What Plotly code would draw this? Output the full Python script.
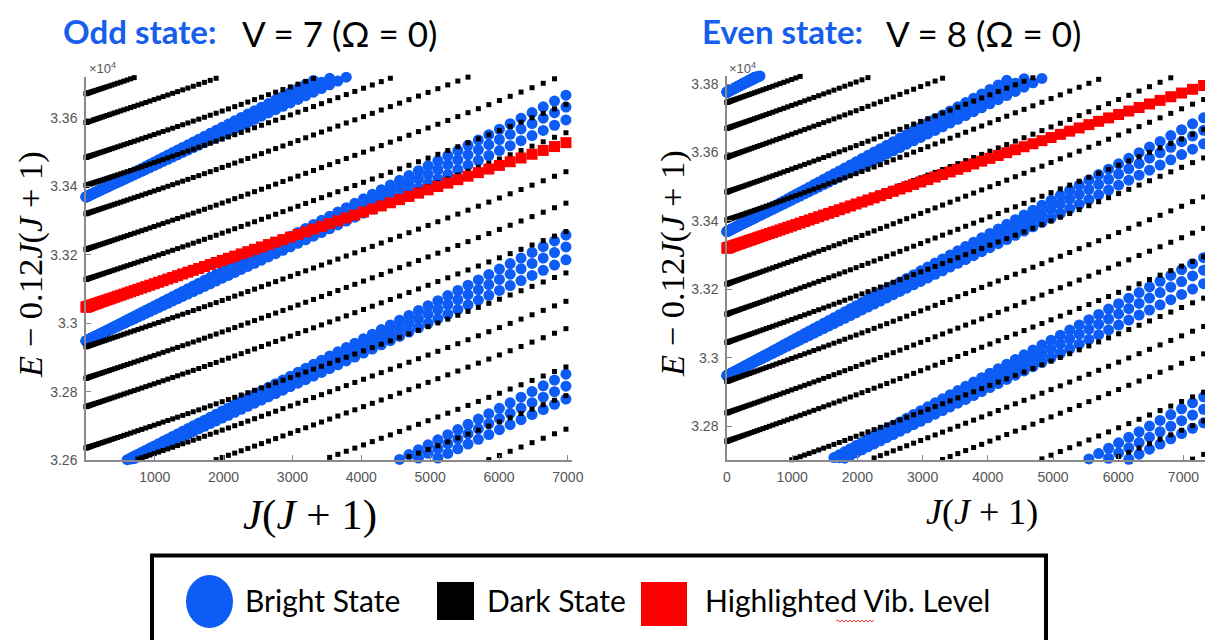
import numpy as np
import plotly.graph_objects as go

W, H = 1205, 640

# ---------------- data ----------------
# rotational quantum numbers shown in each panel; x = J(J+1)
J_odd = list(range(1, 84))
J_even = list(range(0, 86))

# dark-state levels: value of E - 0.12 J(J+1) at J(J+1)=0  (cm^-1)
dark_E0 = [33747, 33671, 33587, 33485, 33403, 33320, 33216, 33128, 33045,
           32931, 32839, 32756, 32635, 32552, 32472, 32360, 32276, 32178]
dark_slope = 0.0664        # cm^-1 per J(J+1)
dark_curv = 1.01e-6        # cm^-1 per [J(J+1)]^2

# bright-state levels (each one split into three sub-levels with different slopes)
bright_E0 = [33777, 33369, 32948, 32539, 32132]
bright_sub_slope = [0.1031, 0.0981, 0.0927]

# highlighted vibrational level in each panel
red_E0 = [33047, 33321]
red_slope = [0.069, 0.065]

# axis ticks
x_ticks_odd = [1000, 2000, 3000, 4000, 5000, 6000, 7000]
x_ticks_even = [0, 1000, 2000, 3000, 4000, 5000, 6000, 7000]
y_ticks_odd = [32600, 32800, 33000, 33200, 33400, 33600]
y_text_odd = ["3.26", "3.28", "3.3", "3.32", "3.34", "3.36"]
y_ticks_even = [32800, 33000, 33200, 33400, 33600, 33800]
y_text_even = ["3.28", "3.3", "3.32", "3.34", "3.36", "3.38"]

# ---------------- layout geometry (pixels) ----------------
def px(x):
    return x / W

def py(y):
    return 1 - y / H

panels = [
    dict(xa="x", ya="y", J=J_odd, xr=[2, 7060], yr=[32600, 33720],
         dom_x=[px(86), px(572)], dom_y=[py(460), py(77)], red=0),
    dict(xa="x2", ya="y2", J=J_even, xr=[0, 7331], yr=[32701, 33824],
         dom_x=[px(727), 1.0], dom_y=[py(460), py(76)], red=1),
]

BLUE = "rgb(12,92,245)"
fig = go.Figure()


def add_series(p, xs, ys, color, symbol, size):
    xs = np.asarray(xs, float)
    ys = np.asarray(ys, float)
    m = (ys >= p["yr"][0]) & (ys <= p["yr"][1]) & (xs <= p["xr"][1]) & (xs >= p["xr"][0] - 2)
    fig.add_trace(go.Scatter(
        x=xs[m], y=ys[m], mode="markers", xaxis=p["xa"], yaxis=p["ya"],
        marker=dict(color=color, symbol=symbol, size=size, line=dict(width=0)),
        cliponaxis=False, showlegend=False, hoverinfo="skip"))


for p in panels:
    x = np.array([j * (j + 1) for j in p["J"]], float)
    # bright states
    for e0 in bright_E0:
        for b in bright_sub_slope:
            add_series(p, x, e0 + b * x, BLUE, "circle", 11)
    # dark states
    for e0 in dark_E0:
        add_series(p, x, e0 + dark_slope * x + dark_curv * x ** 2, "black", "square", 5)
    # highlighted level
    k = p["red"]
    add_series(p, x, red_E0[k] + red_slope[k] * x, "red", "square", 11)

AX = "#8a8a8a"
TICKFONT = dict(family="Liberation Sans, Arial, sans-serif", size=14, color="#555555")


def axis_common():
    return dict(showline=True, linecolor=AX, linewidth=1.5, ticks="inside", ticklen=5,
                tickcolor=AX, tickwidth=1, showgrid=False, zeroline=False,
                tickfont=TICKFONT, automargin=False, fixedrange=True)


layout = dict(
    width=W, height=H, margin=dict(l=0, r=0, t=0, b=0),
    paper_bgcolor="white", plot_bgcolor="white", showlegend=False,
    xaxis=dict(domain=panels[0]["dom_x"], range=panels[0]["xr"], anchor="y",
               tickvals=x_ticks_odd, ticktext=[str(v) for v in x_ticks_odd],
               ticklabelstandoff=3, **axis_common()),
    yaxis=dict(domain=panels[0]["dom_y"], range=panels[0]["yr"], anchor="x",
               tickvals=y_ticks_odd, ticktext=y_text_odd, ticklabelstandoff=4, **axis_common()),
    xaxis2=dict(domain=panels[1]["dom_x"], range=panels[1]["xr"], anchor="y2",
                tickvals=x_ticks_even, ticktext=[str(v) for v in x_ticks_even],
                ticklabelstandoff=3, **axis_common()),
    yaxis2=dict(domain=panels[1]["dom_y"], range=panels[1]["yr"], anchor="x2",
                tickvals=y_ticks_even, ticktext=y_text_even, ticklabelstandoff=4, **axis_common()),
)
fig.update_layout(**layout)

TITLE_FONT = "Lato, Open Sans, sans-serif"
SERIF = "Liberation Serif, Times New Roman, serif"
ann = []


def text(x, y, s, size, color="black", family=TITLE_FONT, xanchor="left", yanchor="middle", angle=0):
    ann.append(dict(x=px(x), y=py(y), xref="paper", yref="paper", text=s, showarrow=False,
                    xanchor=xanchor, yanchor=yanchor, textangle=angle,
                    font=dict(family=family, size=size, color=color)))


# panel titles
text(61, 31, "<b>Odd state:</b>", 33, color="rgb(22,94,235)")
text(240, 33, "V = 7 (Ω = 0)", 35)
text(700, 31, "<b>Even state:</b>", 33, color="rgb(22,94,235)")
text(884, 33, "V = 8 (Ω = 0)", 35)

# axis labels
ylab = "<i>E</i> − 0.12<i>J</i>(<i>J</i> + 1)"
xlab = "<i>J</i>(<i>J</i> + 1)"
text(30, 265, ylab, 34.5, family=SERIF, xanchor="center", angle=-90)
text(672, 264, ylab, 34.5, family=SERIF, xanchor="center", angle=-90)
text(310, 515, xlab, 43, family=SERIF, xanchor="center")
text(982, 512, xlab, 36, family=SERIF, xanchor="center")

# exponent labels
text(87, 68, "×10<sup>4</sup>", 13, color="#555555", family="Liberation Sans, Arial, sans-serif")
text(727, 68, "×10<sup>4</sup>", 13, color="#555555", family="Liberation Sans, Arial, sans-serif")

# legend texts
text(243, 600, "Bright State", 30)
text(485, 600, "Dark State", 30)
text(703, 600, "Highlighted Vib. Level", 30)

fig.update_layout(annotations=ann)

shapes = [
    dict(type="rect", xref="paper", yref="paper", x0=px(152), x1=px(1046), y0=py(700), y1=py(555.5),
         line=dict(color="black", width=4), fillcolor="rgba(0,0,0,0)"),
    dict(type="circle", xref="paper", yref="paper", x0=px(186), x1=px(233), y0=py(628), y1=py(575),
         line=dict(width=0), fillcolor=BLUE),
    dict(type="rect", xref="paper", yref="paper", x0=px(437), x1=px(474), y0=py(620), y1=py(582),
         line=dict(width=0), fillcolor="black"),
    dict(type="rect", xref="paper", yref="paper", x0=px(641), x1=px(687), y0=py(626), y1=py(582),
         line=dict(width=0), fillcolor="red"),
]
# spell-check squiggle under "Vib."
zig = "M {} {}".format(px(836), py(621))
for i, xx in enumerate(range(838, 876, 2)):
    zig += " L {} {}".format(px(xx), py(620 if i % 2 == 0 else 622))
shapes.append(dict(type="path", xref="paper", yref="paper", path=zig,
                   line=dict(color="red", width=0.8)))
fig.update_layout(shapes=shapes)

fig.write_html("out.html", config={"displayModeBar": False},
               post_script="document.body.style.margin='0px';document.body.style.overflow='hidden';")
